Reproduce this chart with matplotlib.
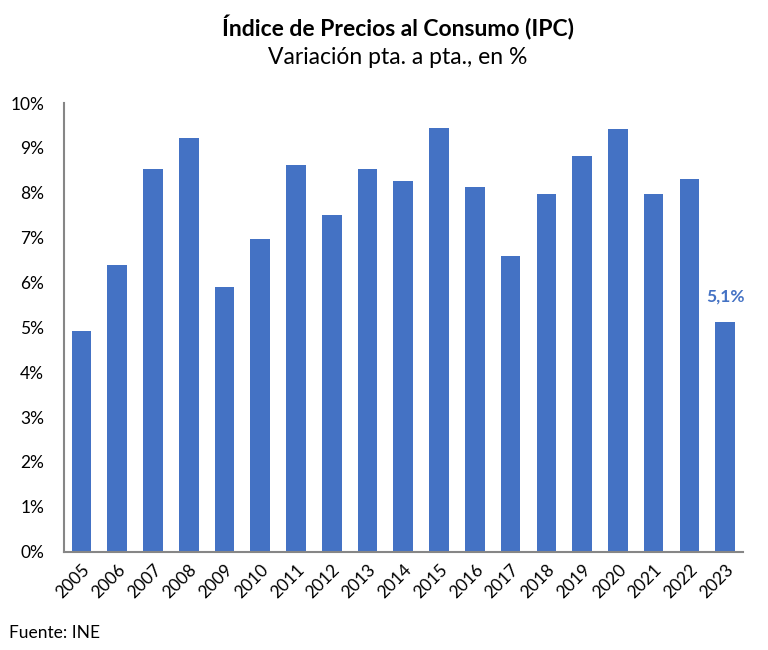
import matplotlib
matplotlib.use("Agg")
import matplotlib.pyplot as plt
from matplotlib.ticker import FuncFormatter

years = [str(y) for y in range(2005, 2024)]
ipc = [4.93, 6.40, 8.52, 9.21, 5.91, 6.96, 8.61, 7.51, 8.54, 8.27,
       9.45, 8.12, 6.58, 7.98, 8.81, 9.43, 7.98, 8.31, 5.13]
last_label = "5,1%"

BLUE = "#4472C4"
GREY = "#868686"
plt.rcParams["font.family"] = ["Lato", "DejaVu Sans"]

fig = plt.figure(figsize=(7.68, 6.5), dpi=100)
ax = fig.add_axes([0.0828, 0.1512, 0.8847, 0.6903])

x = range(len(years))
ax.bar(x, ipc, width=0.55, color=BLUE)
ax.set_xlim(-0.5, len(years) - 0.5)
ax.set_ylim(0, 10)
ax.set_yticks(range(0, 11))
ax.yaxis.set_major_formatter(FuncFormatter(lambda v, _: f"{v:.0f}%"))
ax.set_xticks(list(x))
ax.set_xticklabels(years, rotation=45, ha="right", va="top",
                   rotation_mode="anchor", fontsize=12.5)
ax.tick_params(axis="y", labelsize=12.5, length=0, pad=14)
ax.tick_params(axis="x", length=0, pad=7)
for side in ("top", "right"):
    ax.spines[side].set_visible(False)
for side in ("left", "bottom"):
    ax.spines[side].set_color(GREY)
    ax.spines[side].set_linewidth(1.5)

ax.annotate(last_label, (len(years) - 1, ipc[-1]), xytext=(0, 12),
            textcoords="offset points", ha="center", va="bottom",
            color=BLUE, fontweight="bold", fontsize=12.5)

fig.text(0.518, 0.958, "Índice de Precios al Consumo (IPC)", ha="center",
         va="center", fontsize=16.5, fontweight="bold")
fig.text(0.518, 0.912, "Variación pta. a pta., en %", ha="center",
         va="center", fontsize=16.5)
fig.text(0.012, 0.026, "Fuente: INE", ha="left", va="center", fontsize=12.5)

fig.savefig("out.png", dpi=100)
